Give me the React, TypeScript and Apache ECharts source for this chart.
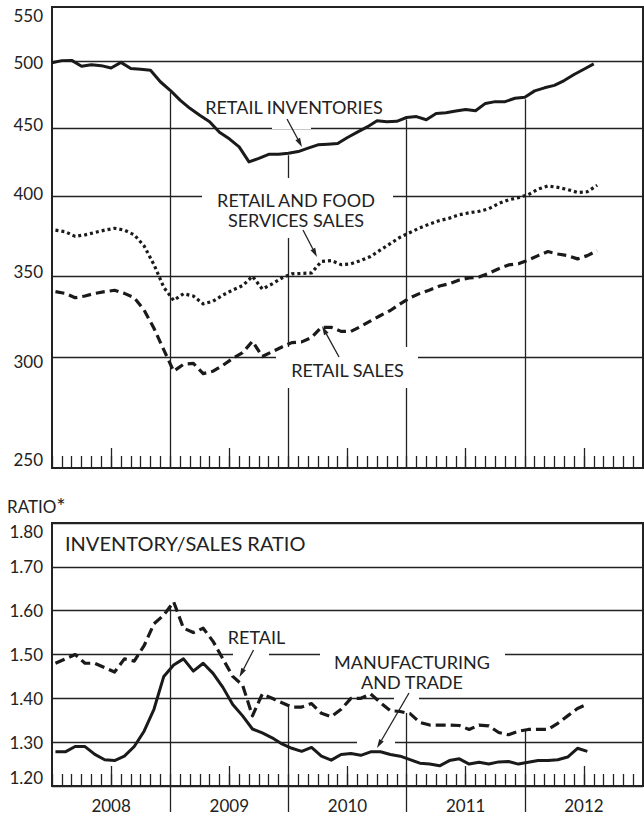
import React, { useEffect, useRef } from 'react';
import * as echarts from 'echarts';

// ---------- data ----------
const YEARS = ['2008', '2009', '2010', '2011', '2012'];
const MID_YEAR_MONTHS = [6, 18, 30, 42, 54];
const YEAR_BOUNDARY_MONTHS = [12, 24, 36, 48];
const TOP_TICKS = [250, 300, 350, 400, 450, 500, 550];
const TOP_GRID_VALUES = [300, 350, 400, 450, 500];

// Retail inventories, $ billions (month-end, first = end of Dec 2007)
const RETAIL_INVENTORIES = [
  500, 501.8, 502, 497, 498.3, 497.5, 495.5, 500.3, 495, 494.5,
  493.6, 484, 477, 469, 462.5, 457, 452, 444, 439, 433,
  422, 424.6, 427.5, 427.5, 428.3, 429.5, 432, 434.5, 435, 435.5,
  440, 444, 448, 452.7, 452, 452.3, 455.3, 456, 453.5, 458.5,
  459, 460.3, 461.6, 460.6, 466.4, 467.8, 467.8, 470.5, 471.3, 476.5,
  479, 481, 485, 490, 494.5, 499,
];
// Retail and food services sales, $ billions (Jan 2008 - Aug 2012)
const RETAIL_FOOD_SALES = [
  375.5, 374.5, 371.5, 372.5, 374, 375.5, 376.7, 375.5, 372.5, 365.5,
  354, 340.5, 333, 336.8, 335.5, 331, 332.5, 336, 339, 341.5,
  347, 339.5, 342.5, 346, 348.5, 348.7, 349, 356, 356.5, 354,
  354.5, 356.5, 359, 363, 367, 371, 374, 377, 379.5, 381.7,
  383.3, 385.5, 386.8, 387.8, 389.5, 393, 395.5, 397, 399, 402.8,
  405, 404, 402.5, 400.5, 401, 405.5,
];
// Retail sales, $ billions (Jan 2008 - Aug 2012)
const RETAIL_SALES = [
  338, 337, 334.5, 335.5, 337, 338, 338.8, 337, 334.5, 327.5,
  317.5, 306, 295, 298.5, 299, 293.8, 295, 298, 301.5, 304.5,
  310.5, 302.5, 305, 307.5, 309.8, 310.2, 312.5, 318, 318, 315.8,
  315.8, 318.5, 321.5, 324.5, 327.3, 331, 334.5, 337, 339, 341.3,
  342.6, 344.8, 346, 346.6, 348.8, 351.5, 353.8, 354.5, 356.8, 359.5,
  362, 360.5, 359.5, 357.5, 359.5, 362.5,
];
// Inventory/sales ratio, retail (Jan 2008 - Jul 2012)
const RATIO_RETAIL = [
  1.48, 1.49, 1.5, 1.48, 1.48, 1.47, 1.46, 1.49, 1.485, 1.52,
  1.57, 1.59, 1.62, 1.56, 1.55, 1.56, 1.53, 1.49, 1.45, 1.43,
  1.36, 1.41, 1.4, 1.39, 1.38, 1.38, 1.388, 1.366, 1.358, 1.375,
  1.4, 1.4, 1.41, 1.39, 1.372, 1.37, 1.365, 1.345, 1.339, 1.339,
  1.339, 1.338, 1.329, 1.339, 1.337, 1.322, 1.317, 1.325, 1.329, 1.329,
  1.329, 1.343, 1.36, 1.377, 1.387,
];
// Inventory/sales ratio, manufacturing and trade (Jan 2008 - Jul 2012)
const RATIO_MFG_TRADE = [
  1.278, 1.278, 1.29, 1.29, 1.272, 1.26, 1.258, 1.268, 1.29, 1.325,
  1.375, 1.45, 1.476, 1.49, 1.462, 1.48, 1.457, 1.425, 1.386, 1.36,
  1.33, 1.321, 1.31, 1.296, 1.286, 1.279, 1.288, 1.268, 1.259, 1.272,
  1.274, 1.27, 1.278, 1.278, 1.272, 1.268, 1.26, 1.252, 1.25, 1.246,
  1.258, 1.262, 1.25, 1.254, 1.25, 1.255, 1.256, 1.25, 1.254, 1.258,
  1.258, 1.26, 1.266, 1.286, 1.279,
];
const SALES_OFFSET = 0.35; // position of a month's flow value within the month

// ---------- styles ----------
const INK = '#222';
const FONT = 'Lato, "Noto Sans", sans-serif';
const L = (v: number) => Math.log10(v);

function interp(vals: number[], offset: number, x: number): number {
  const t = x - offset;
  const i = Math.max(0, Math.min(vals.length - 2, Math.floor(t)));
  const f = t - i;
  return vals[i] + (vals[i + 1] - vals[i]) * f;
}

function text(x: number, y: number, str: string, size: number, align = 'center', rich?: any) {
  return {
    type: 'text', x, y, z: 10, silent: true,
    style: {
      text: str, fill: INK, fontFamily: FONT, fontSize: size,
      align, verticalAlign: 'middle', lineHeight: 20, rich,
    },
  };
}

function mask(x1: number, y1: number, x2: number, y2: number) {
  return {
    type: 'rect', z: 2, silent: true,
    shape: { x: x1, y: y1, width: x2 - x1, height: y2 - y1 },
    style: { fill: '#fff' },
  };
}

function arrow(x1: number, y1: number, x2: number, y2: number) {
  const dx = x2 - x1, dy = y2 - y1;
  const len = Math.hypot(dx, dy);
  const ux = dx / len, uy = dy / len;
  const head = 9, half = 2.6;
  const bx = x2 - ux * head, by = y2 - uy * head;
  return [
    { type: 'line', z: 10, silent: true, shape: { x1, y1, x2: bx, y2: by }, style: { stroke: INK, lineWidth: 1.3 } },
    {
      type: 'polygon', z: 10, silent: true,
      shape: { points: [[x2, y2], [bx - uy * half, by + ux * half], [bx + uy * half, by - ux * half]] },
      style: { fill: INK },
    },
  ];
}

function buildOption(): any {
  const tickLine = { color: INK, width: 1.3 };
  const monthAxis = (gridIndex: number) => ({
    gridIndex, type: 'value', min: 0, max: 60, interval: 1, position: 'bottom',
    axisLine: { show: false, onZero: false },
    axisTick: { show: true, inside: true, length: 12, lineStyle: tickLine },
    axisLabel: { show: false }, splitLine: { show: false },
  });
  const midYearAxis = (gridIndex: number, labels: boolean) => ({
    gridIndex, type: 'value', min: 0, max: 60, interval: 1, position: 'bottom',
    axisLine: { show: false, onZero: false },
    axisTick: { show: true, inside: true, length: 20, customValues: MID_YEAR_MONTHS, lineStyle: tickLine },
    axisLabel: labels
      ? {
          show: true, customValues: MID_YEAR_MONTHS, margin: 11,
          formatter: (v: number) => YEARS[Math.round((v - 6) / 12)],
          color: INK, fontFamily: FONT, fontSize: 17,
        }
      : { show: false },
    splitLine: { show: false },
  });
  const boundaryAxis = (gridIndex: number) => ({
    gridIndex, type: 'value', min: 0, max: 60, interval: 1, position: 'bottom',
    axisLine: { show: false, onZero: false },
    axisTick: { show: true, inside: false, length: 26, customValues: YEAR_BOUNDARY_MONTHS, lineStyle: tickLine },
    axisLabel: { show: false }, splitLine: { show: false },
  });

  const lineSeries = (name: string, xAxisIndex: number, yAxisIndex: number, data: number[][], type: any, width: number, markLine?: any) => ({
    name, type: 'line', xAxisIndex, yAxisIndex, data, z: 3,
    showSymbol: false, symbol: 'none', silent: true, smooth: false,
    lineStyle: { color: '#1a1a1a', width, type, cap: 'butt', join: 'round' },
    emphasis: { disabled: true },
    markLine,
  });

  const gridMark = {
    silent: true, z: 1, symbol: ['none', 'none'], label: { show: false },
    lineStyle: { color: INK, width: 1.3, type: 'solid' },
    emphasis: { disabled: true },
  };

  const topMark = {
    ...gridMark,
    data: [
      ...TOP_GRID_VALUES.map((v) => ({ yAxis: L(v) })),
      ...YEAR_BOUNDARY_MONTHS.map((m) => [
        { coord: [m, L(RETAIL_INVENTORIES[m]) - 0.0015] },
        { coord: [m, L(TOP_TICKS[0])] },
      ]),
    ],
  };
  const bottomMark = {
    ...gridMark,
    data: YEAR_BOUNDARY_MONTHS.map((m) => [
      { coord: [m, interp(RATIO_RETAIL, SALES_OFFSET, m)] },
      { coord: [m, 1.2] },
    ]),
  };

  const labelStyle = { color: INK, fontFamily: FONT, fontSize: 17, margin: 9 };

  return {
    animation: false,
    backgroundColor: '#fff',
    textStyle: { fontFamily: FONT },
    grid: [
      { left: 52, top: 7, width: 591, height: 461, show: true, borderColor: INK, borderWidth: 2, outerBoundsMode: 'none' },
      { left: 52, top: 523, width: 591, height: 263, show: true, borderColor: INK, borderWidth: 2, outerBoundsMode: 'none' },
    ],
    xAxis: [
      monthAxis(0), midYearAxis(0, false),
      monthAxis(1), midYearAxis(1, true), boundaryAxis(1),
    ],
    yAxis: [
      {
        gridIndex: 0, type: 'value', min: L(TOP_TICKS[0]), max: L(TOP_TICKS[TOP_TICKS.length - 1]),
        axisLine: { show: false }, axisTick: { show: false }, splitLine: { show: false },
        axisLabel: {
          ...labelStyle, customValues: TOP_TICKS.map(L), showMinLabel: true, showMaxLabel: true,
          formatter: (v: number) => String(Math.round(Math.pow(10, v))),
          verticalAlignMaxLabel: 'top', verticalAlignMinLabel: 'bottom',
        },
      },
      {
        gridIndex: 1, type: 'value', min: 1.2, max: 1.8, interval: 0.1,
        axisLine: { show: false }, axisTick: { show: false },
        splitLine: { show: true, lineStyle: { color: INK, width: 1.3 } },
        axisLabel: {
          ...labelStyle, showMinLabel: true, showMaxLabel: true,
          formatter: (v: number) => v.toFixed(2),
          verticalAlignMaxLabel: 'top', verticalAlignMinLabel: 'bottom',
        },
      },
    ],
    series: [
      lineSeries('Retail inventories', 0, 0, RETAIL_INVENTORIES.map((v, k) => [k, L(v)]), 'solid', 3, topMark),
      lineSeries('Retail and food services sales', 0, 0, RETAIL_FOOD_SALES.map((v, k) => [k + SALES_OFFSET, L(v)]), [3, 3], 3.2),
      lineSeries('Retail sales', 0, 0, RETAIL_SALES.map((v, k) => [k + SALES_OFFSET, L(v)]), [9, 5], 3.2),
      lineSeries('Retail I/S ratio', 2, 1, RATIO_RETAIL.map((v, k) => [k + SALES_OFFSET, v]), [10, 5], 3.2, bottomMark),
      lineSeries('Manufacturing and trade I/S ratio', 2, 1, RATIO_MFG_TRADE.map((v, k) => [k + SALES_OFFSET, v]), 'solid', 3),
    ],
    graphic: {
      elements: [
        // gaps in rules behind annotations
        mask(272, 121, 311, 129),
        mask(202, 178, 393, 238),
        mask(276, 347, 418, 388),
        mask(233, 650, 269, 658),
        mask(320, 648, 505, 692),
        mask(394, 696, 419, 702),
        mask(357, 740, 395, 746),
        // annotations
        text(294, 106.5, 'RETAIL INVENTORIES', 18),
        text(296, 210, 'RETAIL AND FOOD\nSERVICES SALES', 18),
        text(347.5, 370, 'RETAIL SALES', 18),
        text(7, 506.5, '{a|RATIO}{b|*}', 17, 'left', {
          a: { fontFamily: FONT, fontSize: 17, fill: INK },
          b: { fontFamily: FONT, fontSize: 22, fill: INK, padding: [0, 0, 2, 0] },
        }),
        text(65, 542.5, 'INVENTORY/SALES RATIO', 20, 'left'),
        text(256.5, 637, 'RETAIL', 18),
        text(412, 671.5, 'MANUFACTURING\nAND TRADE', 18),
        ...arrow(287, 119, 302, 147),
        ...arrow(303, 230, 317, 257),
        ...arrow(339, 357, 322, 326),
        ...arrow(253.5, 650, 239.5, 677),
        ...arrow(409, 693, 377, 748),
      ],
    },
  };
}

export default function App() {
  const ref = useRef<HTMLDivElement>(null);
  useEffect(() => {
    if (!ref.current) return;
    const chart = echarts.init(ref.current, null, { renderer: 'svg' });
    chart.setOption(buildOption());
    return () => chart.dispose();
  }, []);
  return (
    <div
      ref={ref}
      style={{ position: 'fixed', left: 0, top: 0, width: 644, height: 817, background: '#fff' }}
    />
  );
}
